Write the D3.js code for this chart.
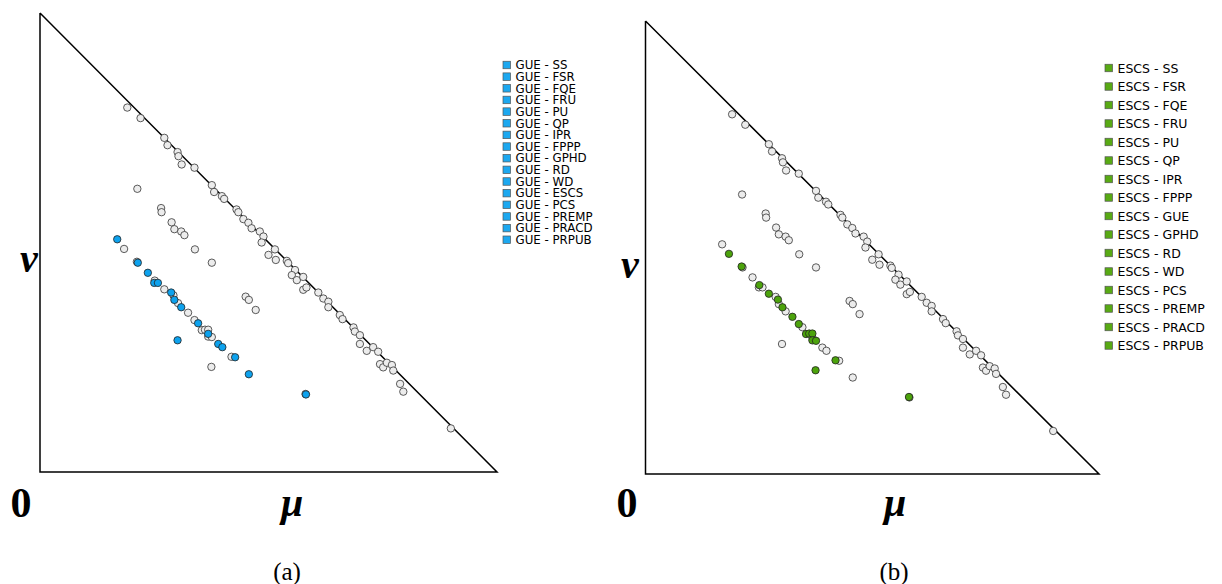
<!DOCTYPE html>
<html>
<head>
<meta charset="utf-8">
<script src="https://cdn.jsdelivr.net/npm/d3@7"></script>
<style>
  body { margin: 0; background: #fff; }
  svg text { font-family: "DejaVu Sans", Verdana, sans-serif; }
</style>
</head>
<body>
<div id="container"></div>
<script>
/* DATA  (mu, nu) */

// pairs that are grey in both panels
const otherPoints = [
  [0.191,0.794],[0.220,0.771],[0.272,0.728],[0.279,0.712],[0.301,0.697],[0.303,0.688],
  [0.310,0.670],[0.338,0.663],[0.376,0.625],[0.381,0.610],[0.398,0.601],[0.403,0.595],
  [0.430,0.572],[0.434,0.566],[0.445,0.551],[0.456,0.543],[0.463,0.531],[0.481,0.524],
  [0.489,0.513],[0.485,0.500],[0.500,0.473],[0.516,0.462],[0.514,0.485],[0.540,0.460],
  [0.543,0.455],[0.558,0.440],[0.551,0.429],[0.562,0.418],[0.576,0.425],[0.576,0.397],
  [0.583,0.402],[0.609,0.391],[0.620,0.378],[0.631,0.371],[0.631,0.359],[0.656,0.342],
  [0.662,0.333],[0.686,0.315],[0.689,0.306],[0.700,0.298],[0.700,0.279],[0.715,0.264],
  [0.729,0.272],[0.740,0.262],[0.744,0.235],[0.751,0.228],[0.759,0.238],[0.770,0.233],
  [0.773,0.221],[0.788,0.192],[0.795,0.175],[0.899,0.095],
  [0.213,0.617],[0.265,0.575],[0.266,0.566],[0.288,0.544],[0.294,0.529],[0.309,0.524],
  [0.316,0.516],[0.339,0.485],[0.376,0.456],[0.450,0.382],[0.457,0.375],[0.472,0.353]
];

const gueLabels = ["GUE - SS","GUE - FSR","GUE - FQE","GUE - FRU","GUE - PU","GUE - QP",
  "GUE - IPR","GUE - FPPP","GUE - GPHD","GUE - RD","GUE - WD","GUE - ESCS","GUE - PCS",
  "GUE - PREMP","GUE - PRACD","GUE - PRPUB"];
const guePoints = [
  [0.169,0.507],[0.214,0.456],[0.236,0.434],[0.250,0.412],[0.258,0.412],[0.287,0.391],
  [0.294,0.375],[0.309,0.359],[0.346,0.324],[0.368,0.301],[0.390,0.279],[0.399,0.272],
  [0.427,0.250],[0.301,0.287],[0.457,0.213],[0.582,0.169]
];

const escsLabels = ["ESCS - SS","ESCS - FSR","ESCS - FQE","ESCS - FRU","ESCS - PU","ESCS - QP",
  "ESCS - IPR","ESCS - FPPP","ESCS - GUE","ESCS - GPHD","ESCS - RD","ESCS - WD","ESCS - PCS",
  "ESCS - PREMP","ESCS - PRACD","ESCS - PRPUB"];
const escsPoints = [
  [0.184,0.486],[0.212,0.458],[0.251,0.417],[0.272,0.398],[0.292,0.385],[0.302,0.368],
  [0.324,0.347],[0.338,0.331],[0.354,0.309],[0.361,0.310],[0.368,0.310],[0.368,0.295],
  [0.376,0.294],[0.419,0.251],[0.375,0.229],[0.581,0.170]
];

const triangle = [[0,1],[0,0],[1,0],[0,1]];

/* LAYOUT */
const width = 1222, height = 584;

const panels = [
  { x0: 40, x1: 497, y0: 472, y1: 13, grey: otherPoints.concat(escsPoints), hi: guePoints,
    color: "#0da2ee", legColor: "#1ca8f0", labels: gueLabels,
    legX: 503, legY: 65, legStep: 11.65, legFont: 11.8, legBox: 7.5,
    zeroX: 21, muX: 292, nuX: 29, nuY: 272, cap: "(a)", capX: 287 },
  { x0: 645.5, x1: 1099, y0: 474, y1: 21, grey: otherPoints.concat(guePoints), hi: escsPoints,
    color: "#4ca30c", legColor: "#58aa14", labels: escsLabels,
    legX: 1105, legY: 68, legStep: 18.5, legFont: 12.5, legBox: 7.5,
    zeroX: 627, muX: 895, nuX: 630, nuY: 278, cap: "(b)", capX: 894 }
];

const svg = d3.select("#container")
  .append("svg")
  .attr("width", width)
  .attr("height", height)

panels.forEach(p => {
  const xScale = d3.scaleLinear().domain([0,1]).range([p.x0, p.x1])
  const yScale = d3.scaleLinear().domain([0,1]).range([p.y0, p.y1])

  const g = svg.append("g")

  const line = d3.line().x(d => xScale(d[0])).y(d => yScale(d[1]))
  g.append("path")
    .attr("d", line(triangle))
    .attr("fill", "none")
    .attr("stroke", "#000")
    .attr("stroke-width", 1.5)

  g.selectAll("circle.grey")
    .data(p.grey)
    .join("circle")
    .attr("class", "grey")
    .attr("cx", d => xScale(d[0]))
    .attr("cy", d => yScale(d[1]))
    .attr("r", 3.7)
    .attr("fill", "#ececec")
    .attr("stroke", "#333")
    .attr("stroke-width", 0.8)

  g.selectAll("circle.hi")
    .data(p.hi)
    .join("circle")
    .attr("class", "hi")
    .attr("cx", d => xScale(d[0]))
    .attr("cy", d => yScale(d[1]))
    .attr("r", 3.7)
    .attr("fill", p.color)
    .attr("stroke", "#222")
    .attr("stroke-width", 0.8)

  // legend
  const leg = g.selectAll("g.leg")
    .data(p.labels)
    .join("g")
    .attr("class", "leg")
    .attr("transform", (d,i) => `translate(${p.legX},${p.legY + i*p.legStep})`)
  leg.append("rect")
    .attr("x", 0).attr("y", -p.legBox/2)
    .attr("width", p.legBox).attr("height", p.legBox)
    .attr("fill", p.legColor)
    .attr("stroke", "#555")
    .attr("stroke-width", 0.7)
  leg.append("text")
    .attr("x", p.legBox + 5)
    .attr("y", 0)
    .attr("dy", "0.36em")
    .attr("font-size", p.legFont)
    .attr("fill", "#000")
    .text(d => d)

  // axis letters
  g.append("text")
    .attr("x", p.zeroX).attr("y", 517)
    .attr("text-anchor", "middle")
    .style("font-family", "'Liberation Serif', 'Times New Roman', serif")
    .attr("font-weight", "bold")
    .attr("font-size", 42)
    .text("0")
  g.append("text")
    .attr("x", p.muX).attr("y", 516)
    .attr("text-anchor", "middle")
    .style("font-family", "'Liberation Serif', 'Times New Roman', serif")
    .attr("font-weight", "bold")
    .attr("font-style", "italic")
    .attr("font-size", 40)
    .text("μ")
  g.append("text")
    .attr("x", p.nuX).attr("y", p.nuY)
    .attr("text-anchor", "middle")
    .style("font-family", "'Liberation Serif', 'Times New Roman', serif")
    .attr("font-weight", "bold")
    .attr("font-style", "italic")
    .attr("font-size", 40)
    .text("ν")
  g.append("text")
    .attr("x", p.capX).attr("y", 580)
    .attr("text-anchor", "middle")
    .style("font-family", "'Liberation Serif', 'Times New Roman', serif")
    .attr("font-size", 25)
    .text(p.cap)
})
</script>
</body>
</html>
